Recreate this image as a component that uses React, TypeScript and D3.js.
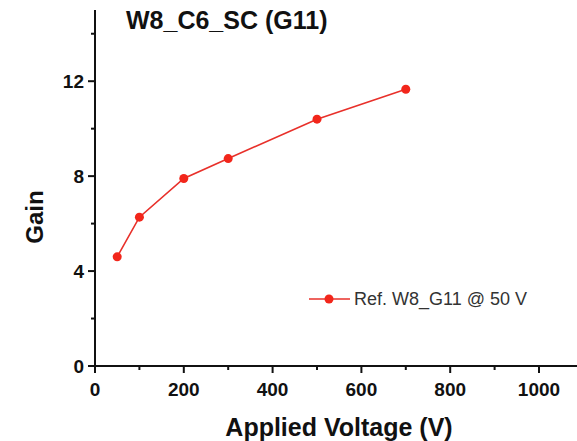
import React, { useEffect, useRef } from 'react';
import * as d3 from 'd3';

const voltage = [50, 100, 200, 300, 500, 700];
const gain = [4.6, 6.27, 7.9, 8.74, 10.4, 11.66];
const xTicks = [0, 200, 400, 600, 800, 1000];
const yTicks = [0, 4, 8, 12];
const xMinor = [100, 300, 500, 700, 900, 1100];
const yMinor = [2, 6, 10, 14];
const title = 'W8_C6_SC (G11)';
const legendLabel = 'Ref. W8_G11 @ 50 V';

const App = () => {
  const ref = useRef<SVGSVGElement>(null);

  useEffect(() => {
    const svg = d3.select(ref.current);
    svg.selectAll('*').remove();

    const font = 'Liberation Sans, Arial, sans-serif';
    const red = '#e8302a';
    const x = d3.scaleLinear().domain([0, 1000]).range([95, 539]);
    const y = d3.scaleLinear().domain([0, 15]).range([366, 10]);

    // axes lines
    svg.append('line').attr('x1', x(0)).attr('x2', 577).attr('y1', y(0)).attr('y2', y(0))
      .attr('stroke', '#111').attr('stroke-width', 2);
    svg.append('line').attr('x1', x(0)).attr('x2', x(0)).attr('y1', y(0) + 1).attr('y2', y(15))
      .attr('stroke', '#111').attr('stroke-width', 2);

    // x ticks
    svg.selectAll('.xt').data(xTicks).enter().append('line')
      .attr('x1', d => x(d)).attr('x2', d => x(d)).attr('y1', y(0)).attr('y2', y(0) + 7)
      .attr('stroke', '#111').attr('stroke-width', 2);
    svg.selectAll('.xm').data(xMinor).enter().append('line')
      .attr('x1', d => x(d)).attr('x2', d => x(d)).attr('y1', y(0)).attr('y2', y(0) + 4)
      .attr('stroke', '#111').attr('stroke-width', 2);
    svg.selectAll('.xl').data(xTicks).enter().append('text')
      .attr('x', d => x(d)).attr('y', 396)
      .attr('text-anchor', 'middle').attr('font-family', font).attr('font-weight', 'bold')
      .attr('font-size', 19).attr('fill', '#111').text(d => d);

    // y ticks
    svg.selectAll('.yt').data(yTicks).enter().append('line')
      .attr('x1', x(0) - 7).attr('x2', x(0)).attr('y1', d => y(d)).attr('y2', d => y(d))
      .attr('stroke', '#111').attr('stroke-width', 2);
    svg.selectAll('.ym').data(yMinor).enter().append('line')
      .attr('x1', x(0) - 4).attr('x2', x(0)).attr('y1', d => y(d)).attr('y2', d => y(d))
      .attr('stroke', '#111').attr('stroke-width', 2);
    svg.selectAll('.yl').data(yTicks).enter().append('text')
      .attr('x', x(0) - 11).attr('y', d => y(d) + 7)
      .attr('text-anchor', 'end').attr('font-family', font).attr('font-weight', 'bold')
      .attr('font-size', 19).attr('fill', '#111').text(d => d);

    // axis titles
    svg.append('text').attr('x', 339).attr('y', 436).attr('text-anchor', 'middle')
      .attr('font-family', font).attr('font-weight', 'bold').attr('font-size', 25)
      .attr('fill', '#111').text('Applied Voltage (V)');
    svg.append('text').attr('transform', 'translate(43,217) rotate(-90)').attr('text-anchor', 'middle')
      .attr('font-family', font).attr('font-weight', 'bold').attr('font-size', 24)
      .attr('fill', '#111').text('Gain');

    // title
    svg.append('text').attr('x', 126).attr('y', 29)
      .attr('font-family', font).attr('font-weight', 'bold').attr('font-size', 25)
      .attr('fill', '#111').text(title);

    // series
    const pts = voltage.map((v, i) => [v, gain[i]] as [number, number]);
    const line = d3.line<[number, number]>().x(d => x(d[0])).y(d => y(d[1]));
    svg.append('path').datum(pts).attr('d', line).attr('fill', 'none')
      .attr('stroke', red).attr('stroke-width', 1.6);
    svg.selectAll('.pt').data(pts).enter().append('circle')
      .attr('cx', d => x(d[0])).attr('cy', d => y(d[1])).attr('r', 4.5).attr('fill', '#f2261b');

    // legend
    svg.append('line').attr('x1', 309).attr('x2', 350).attr('y1', 299).attr('y2', 299)
      .attr('stroke', red).attr('stroke-width', 1.6);
    svg.append('circle').attr('cx', 329).attr('cy', 299).attr('r', 4.5).attr('fill', '#f2261b');
    svg.append('text').attr('x', 354).attr('y', 305)
      .attr('font-family', font).attr('font-size', 18).attr('fill', '#333').text(legendLabel);
  }, []);

  return (
    <svg ref={ref} width={577} height={441}
      style={{ position: 'absolute', left: 0, top: 0, background: '#fff' }} />
  );
};

export default App;
